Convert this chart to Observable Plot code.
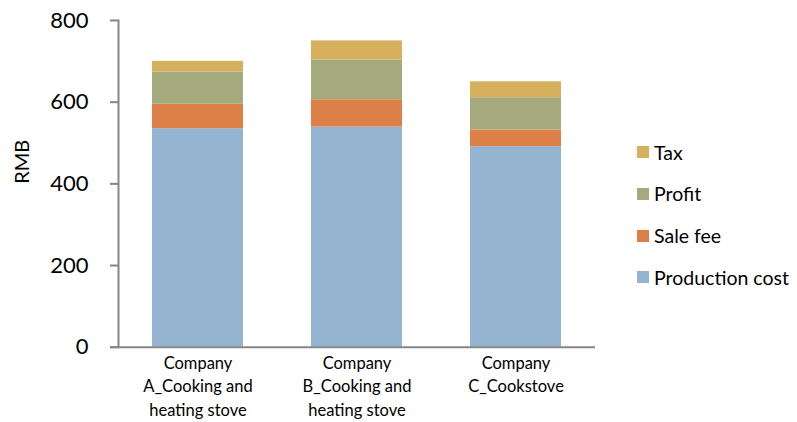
<!DOCTYPE html>
<html>
<head>
<meta charset="utf-8">
<script src="https://cdn.jsdelivr.net/npm/d3@7"></script>
<script src="https://cdn.jsdelivr.net/npm/@observablehq/plot@0.6"></script>
<style>
  html, body { margin: 0; padding: 0; background: #fff; }
  #chart { position: relative; width: 797px; height: 422px; font-family: Lato, "Noto Sans", sans-serif; }
  #legend { position: absolute; left: 637px; top: 140px; }
  .item { display: flex; align-items: center; height: 24px; margin-bottom: 17.8px; font-size: 19.5px; color: #000; }
  .swatch { width: 12px; height: 12px; margin-right: 5px; flex: none; }
</style>
</head>
<body>
<div id="chart"></div>
<script>
// Cost breakdown per stove (RMB)
const companies = [
  "Company\nA_Cooking and\nheating stove",
  "Company\nB_Cooking and\nheating stove",
  "Company\nC_Cookstove"
];
const productionCost = [535, 539, 491];
const saleFee = [60, 67, 41];
const profit = [79, 97, 79];
const tax = [26, 47, 39];

const seriesNames = ["Production cost", "Sale fee", "Profit", "Tax"];
const seriesValues = [productionCost, saleFee, profit, tax];
const seriesColors = ["#94b4d2", "#dd8047", "#a4a97e", "#d7b05e"];
const yTicks = [0, 200, 400, 600, 800];

const rows = seriesNames.flatMap((name, s) =>
  companies.map((company, i) => ({company, component: name, value: seriesValues[s][i]}))
);

const axisGray = "#868686";

const plot = Plot.plot({
  width: 797,
  height: 422,
  marginLeft: 118,
  marginRight: 202,
  marginTop: 20,
  marginBottom: 75.3,
  style: {fontFamily: "Lato, 'Noto Sans', sans-serif", color: "#000", background: "#fff", overflow: "visible"},
  x: {domain: companies, paddingInner: 0.43, paddingOuter: 0.215, label: null},
  y: {domain: [0, 800], label: null},
  color: {domain: seriesNames, range: seriesColors},
  marks: [
    Plot.barY(rows, Plot.stackY({
      order: seriesNames,
      x: "company",
      y: "value",
      fill: "component"
    })),
    Plot.frame({anchor: "left", stroke: axisGray, strokeWidth: 2, strokeOpacity: 1}),
    Plot.ruleY([0], {stroke: axisGray, strokeWidth: 2, insetLeft: -8}),
    Plot.axisY({
      ticks: yTicks,
      tickSize: 8,
      tickPadding: 22,
      stroke: axisGray,
      strokeWidth: 2,
      strokeOpacity: 1,
      fontSize: 22,
      fill: "#000",
      label: null
    }),
    Plot.axisX({
      tickSize: 0,
      tickPadding: 5,
      fontSize: 16.5,
      lineHeight: 1.42,
      fill: "#000",
      label: null
    }),
    Plot.text(["RMB"], {
      frameAnchor: "left",
      rotate: -90,
      dx: -96,
      fontSize: 20,
      fill: "#000"
    })
  ]
});

const chart = document.getElementById("chart");
chart.appendChild(plot);

// legend, top entry is the top of each stack
const legend = document.createElement("div");
legend.id = "legend";
[...seriesNames].reverse().forEach((name) => {
  const item = document.createElement("div");
  item.className = "item";
  const sw = document.createElement("span");
  sw.className = "swatch";
  sw.style.background = seriesColors[seriesNames.indexOf(name)];
  const label = document.createElement("span");
  label.textContent = name;
  item.appendChild(sw);
  item.appendChild(label);
  legend.appendChild(item);
});
chart.appendChild(legend);
</script>
</body>
</html>
